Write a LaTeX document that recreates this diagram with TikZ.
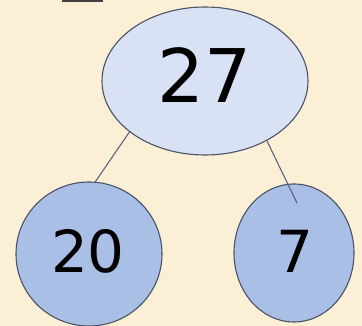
\documentclass[tikz,border=0pt]{standalone}
\usepackage{fontspec}
\setmainfont{DejaVu Sans}
\usetikzlibrary{shapes.geometric}
\definecolor{bgbeige}{HTML}{FBEFD6}
\definecolor{toplight}{HTML}{D9E2F5}
\definecolor{leafblue}{HTML}{A9BFE6}
\definecolor{edgegray}{HTML}{4B5266}
\definecolor{linegray}{HTML}{5A6580}
\tikzset{
  treenode/.style={ellipse, draw=edgegray, line width=1.1pt, inner sep=0pt},
  treeedge/.style={draw=linegray, line width=1.1pt},
}
\begin{document}
\begin{tikzpicture}[x=1pt,y=-1pt]
\useasboundingbox (0,0) rectangle (362,326);
\fill[bgbeige] (0,0) rectangle (362,326);
\fill[black!75] (62,0) rectangle (103,2.5);
\node[treenode, fill=toplight, minimum width=206pt, minimum height=148pt] (root) at (205,81) {};
\node[treenode, fill=leafblue, minimum width=146pt, minimum height=144pt] (left) at (89,254) {};
\node[treenode, fill=leafblue, minimum width=120pt, minimum height=138pt] (right) at (294,253) {};
\coordinate (rend) at (297,203);
\draw[treeedge] (root.214) -- (left.85);
\draw[treeedge] (root.-44) -- (rend);
\node[font=\fontsize{74}{74}\selectfont] at (205,75) {27};
\node[font=\fontsize{58}{58}\selectfont] at (88,251) {20};
\node[font=\fontsize{58}{58}\selectfont] at (295,251) {7};
\end{tikzpicture}
\end{document}
